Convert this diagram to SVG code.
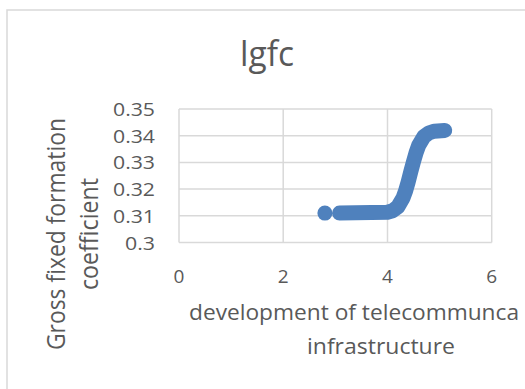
<svg xmlns="http://www.w3.org/2000/svg" width="525" height="389" viewBox="0 0 525 389">
<style>
.t{font-family:"Open Sans","Liberation Sans",sans-serif;fill:#595959}
.grid{stroke:#D9D9D9;stroke-width:1.5;fill:none}
</style>
<rect x="0" y="0" width="525" height="389" fill="#ffffff"/>
<rect x="7" y="10" width="540" height="400" fill="#ffffff" stroke="#D9D9D9" stroke-width="1.5"/>
<g id="title"><text class="t" x="267" y="66" font-size="34" text-anchor="middle" textLength="54" lengthAdjust="spacingAndGlyphs">lgfc</text></g>
<g id="plot-grid" class="grid">
<line x1="179" y1="109" x2="491.7" y2="109"/>
<line x1="179" y1="135.7" x2="491.7" y2="135.7"/>
<line x1="179" y1="162.4" x2="491.7" y2="162.4"/>
<line x1="179" y1="189.1" x2="491.7" y2="189.1"/>
<line x1="179" y1="215.8" x2="491.7" y2="215.8"/>
<line x1="179" y1="242.5" x2="491.7" y2="242.5"/>
<line x1="179" y1="109" x2="179" y2="242.5"/>
<line x1="283.2" y1="109" x2="283.2" y2="242.5"/>
<line x1="387.5" y1="109" x2="387.5" y2="242.5"/>
<line x1="491.7" y1="109" x2="491.7" y2="242.5"/>
</g>
<g id="y-ticks" class="t" font-size="19" text-anchor="end">
<text x="155" y="116" textLength="42" lengthAdjust="spacingAndGlyphs">0.35</text>
<text x="155" y="142.7" textLength="42" lengthAdjust="spacingAndGlyphs">0.34</text>
<text x="155" y="169.4" textLength="42" lengthAdjust="spacingAndGlyphs">0.33</text>
<text x="155" y="196.1" textLength="42" lengthAdjust="spacingAndGlyphs">0.32</text>
<text x="155" y="222.8" textLength="42" lengthAdjust="spacingAndGlyphs">0.31</text>
<text x="155" y="249.5" textLength="30" lengthAdjust="spacingAndGlyphs">0.3</text>
</g>
<g id="x-ticks" class="t" font-size="19" text-anchor="middle">
<text x="179" y="283">0</text>
<text x="283.2" y="283">2</text>
<text x="387.5" y="283">4</text>
<text x="491.7" y="283">6</text>
</g>
<g id="x-title" class="t" font-size="22.5">
<text x="189" y="320" textLength="330" lengthAdjust="spacingAndGlyphs">development of telecommunca</text>
<text x="307" y="354" textLength="148" lengthAdjust="spacingAndGlyphs">infrastructure</text>
</g>
<g id="y-title" class="t" font-size="25" text-anchor="middle">
<text transform="translate(65,234) rotate(-90)" textLength="232" lengthAdjust="spacingAndGlyphs">Gross fixed formation</text>
<text transform="translate(98,234) rotate(-90)" textLength="112" lengthAdjust="spacingAndGlyphs">coefficient</text>
</g>
<g id="series" fill="#4F81BD" stroke="#4F81BD">
<circle cx="324.9" cy="213.1" r="7.5" stroke="none"/>
<polyline fill="none" stroke-width="15" stroke-linecap="round" stroke-linejoin="round" points="339.5,213.1 387.4,212.2 392.6,210.7 397.8,206.9 403,198 405.6,190.9 408.2,181.9 410.8,171.7 413.5,161.6 416.1,152.6 418.7,145.4 423.9,136.6 429.1,132.8 434.3,131.2 444.7,130.4"/>
</g>
</svg>
